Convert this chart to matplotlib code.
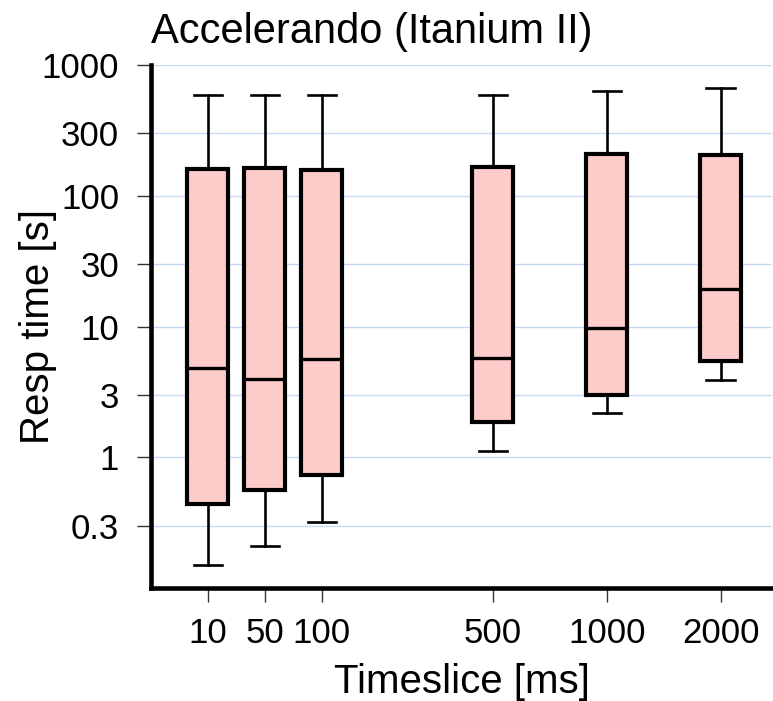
import matplotlib
matplotlib.use("Agg")
import matplotlib.pyplot as plt

# data (seconds)
timeslice_labels = ["10", "50", "100", "500", "1000", "2000"]
positions = [1, 2, 3, 6, 8, 10]
whisker_low = [0.15, 0.21, 0.32, 1.11, 2.17, 3.87]
q1 = [0.44, 0.56, 0.73, 1.85, 2.97, 5.4]
median = [4.8, 3.95, 5.6, 5.7, 9.8, 19.2]
q3 = [161, 164, 158, 166, 209, 206]
whisker_high = [590, 590, 590, 590, 635, 667]

yticks = [0.3, 1, 3, 10, 30, 100, 300, 1000]
ytick_labels = ["0.3", "1", "3", "10", "30", "100", "300", "1000"]

plt.rcParams["font.family"] = ["Liberation Sans", "DejaVu Sans"]

fig = plt.figure(figsize=(7.73, 7.01), dpi=100)
ax = fig.add_axes([151 / 773, 113 / 701, 621 / 773, 523 / 701])

stats = []
for lo, a, m, b, hi in zip(whisker_low, q1, median, q3, whisker_high):
    stats.append({"whislo": lo, "q1": a, "med": m, "q3": b, "whishi": hi, "fliers": []})

ax.bxp(stats, positions=positions, widths=0.72, patch_artist=True,
       showfliers=False, capwidths=0.5,
       boxprops=dict(facecolor="#ffcccc", edgecolor="black", linewidth=3.0),
       medianprops=dict(color="black", linewidth=2.4),
       whiskerprops=dict(color="black", linewidth=1.9),
       capprops=dict(color="black", linewidth=1.9),
       zorder=3)

ax.set_yscale("log")
ax.set_ylim(0.1, 1000)
ax.set_xlim(0, 10.9)
ax.set_yticks(yticks)
ax.set_yticklabels(ytick_labels)
ax.yaxis.set_minor_locator(matplotlib.ticker.NullLocator())
ax.set_xticks(positions)
ax.set_xticklabels(timeslice_labels)

ax.grid(axis="y", color="#c8d8f8", linewidth=1.0, zorder=0)
ax.set_axisbelow(True)
for side in ("top", "right"):
    ax.spines[side].set_visible(False)
for side in ("left", "bottom"):
    ax.spines[side].set_linewidth(3.3)
ax.tick_params(axis="both", direction="out", length=10, width=1.0, labelsize=25, color="#333333")
ax.tick_params(axis="y", pad=13)
ax.tick_params(axis="x", pad=11)

ax.set_xlabel("Timeslice [ms]", fontsize=29)
ax.set_ylabel("Resp time [s]", fontsize=29)
ax.xaxis.set_label_coords(0.5, -0.143)
ax.yaxis.set_label_coords(-0.152, 0.5)
ax.set_title("Accelerando (Itanium II)", fontsize=30, loc="left", pad=16)

fig.savefig("out.png", dpi=100)
